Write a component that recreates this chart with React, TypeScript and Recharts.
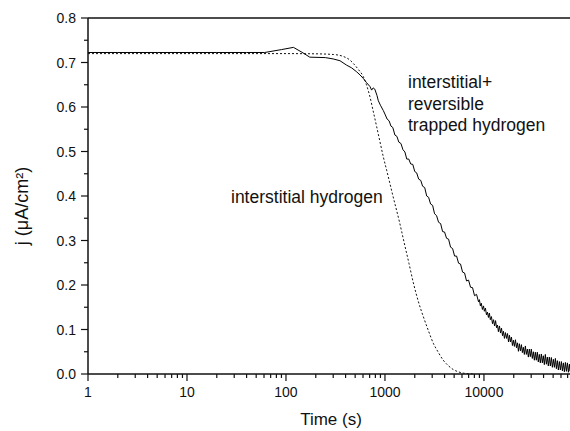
import { LineChart, Line, XAxis, YAxis, ReferenceLine } from 'recharts';

// measured permeation current, j in uA/cm2 against time in s
const solidTime = [
  1, 2, 5, 10, 20, 40, 61, 90, 119, 145, 174, 250, 300, 351, 410, 460, 518, 560, 605, 650,
  705, 733, 760, 790, 830, 857, 900, 962,
  1000, 1050, 1100, 1150, 1200, 1260, 1320, 1380, 1450, 1520,
  1590, 1660, 1740, 1820, 1910, 2000, 2090, 2190, 2300, 2400,
  2520, 2640, 2760, 2890, 3030, 3170, 3320, 3480, 3650, 3820,
  4000, 4190, 4390, 4600, 4820, 5050, 5290, 5540, 5800, 6080,
  6370, 6670, 6990, 7320, 7670, 8030, 8420, 8820,
  9000, 9200, 9400, 9650, 9900, 10100, 10350, 10600, 10850, 11100,
  11350, 11600, 11900, 12200, 12500, 12800, 13100, 13400, 13700, 14000,
  14350, 14700, 15050, 15400, 15750, 16100, 16500, 16900, 17300, 17700,
  18100, 18500, 18950, 19400, 19850, 20300, 20800, 21300, 21800, 22300,
  22800, 23350, 23900, 24450, 25000, 25600, 26200, 26800, 27450, 28100,
  28750, 29400, 30100, 30800, 31550, 32300, 33050, 33800, 34600, 35400,
  36250, 37100, 38000, 38900, 39800, 40750, 41700, 42700, 43700, 44700,
  45750, 46850, 47950, 49100, 50250, 51450, 52650, 53900, 55150, 56450,
  57800, 59150, 60550, 62000, 63450, 64950, 66500, 68050, 69650, 71300,
  73000, 74000,
];
const solidJ = [
  0.7225, 0.7225, 0.7225, 0.7225, 0.7225, 0.7225, 0.7225, 0.729, 0.734, 0.723, 0.712, 0.711,
  0.708, 0.704, 0.694, 0.688, 0.679, 0.672, 0.664, 0.655,
  0.646, 0.638, 0.643, 0.64, 0.626, 0.614, 0.604, 0.592,
  0.584, 0.573, 0.569, 0.557, 0.554, 0.537, 0.534, 0.521, 0.518, 0.504,
  0.499, 0.483, 0.483, 0.472, 0.471, 0.455, 0.452, 0.438, 0.435, 0.422,
  0.419, 0.4, 0.397, 0.382, 0.379, 0.36, 0.356, 0.341, 0.338, 0.32,
  0.319, 0.305, 0.303, 0.285, 0.282, 0.265, 0.265, 0.249, 0.247, 0.229,
  0.227, 0.209, 0.211, 0.195, 0.194, 0.176, 0.179, 0.162,
  0.167, 0.153, 0.159, 0.145, 0.153, 0.141, 0.148, 0.133, 0.139, 0.127,
  0.137, 0.122, 0.129, 0.113, 0.122, 0.108, 0.12, 0.104, 0.11, 0.095,
  0.108, 0.092, 0.103, 0.086, 0.096, 0.08, 0.093, 0.08, 0.091, 0.072,
  0.087, 0.072, 0.083, 0.064, 0.076, 0.062, 0.077, 0.059, 0.07, 0.051,
  0.068, 0.052, 0.066, 0.048, 0.06, 0.044, 0.063, 0.044, 0.056, 0.038,
  0.056, 0.039, 0.056, 0.035, 0.05, 0.031, 0.049, 0.031, 0.049, 0.027,
  0.044, 0.025, 0.045, 0.025, 0.041, 0.021, 0.044, 0.022, 0.038, 0.018,
  0.038, 0.018, 0.037, 0.015, 0.033, 0.015, 0.035, 0.012, 0.03, 0.009,
  0.028, 0.009, 0.028, 0.007, 0.025, 0.005, 0.026, 0.006, 0.025, 0.004,
  0.022, 0.006,
];

// fitted curve for interstitial hydrogen only (dotted)
const dashTime = [
  1, 10, 100, 200, 300, 380, 445, 478, 540, 605, 650, 705, 760, 824, 890, 962, 1040, 1122,
  1210, 1313, 1400, 1475, 1590, 1750, 1930, 2180, 2440, 2750, 3080, 3450, 3880, 4350, 4900,
  5500, 6170, 7000, 8000,
];
const dashJ = [
  0.72, 0.72, 0.72, 0.7195, 0.718, 0.7135, 0.705, 0.698, 0.684, 0.668, 0.65, 0.623, 0.591,
  0.556, 0.522, 0.488, 0.458, 0.428, 0.398, 0.367, 0.342, 0.32, 0.288, 0.248, 0.206, 0.162,
  0.129, 0.097, 0.069, 0.049, 0.031, 0.019, 0.01, 0.005, 0.002, 0.0007, 0,
];

const xTicks = [
  1, 2, 3, 4, 5, 6, 7, 8, 9,
  10, 20, 30, 40, 50, 60, 70, 80, 90,
  100, 200, 300, 400, 500, 600, 700, 800, 900,
  1000, 2000, 3000, 4000, 5000, 6000, 7000, 8000, 9000,
  10000, 20000, 30000, 40000, 50000, 60000, 70000,
];
const xLabels = [1, 10, 100, 1000, 10000];
const yTicks = [
  0, 0.05, 0.1, 0.15, 0.2, 0.25, 0.3, 0.35, 0.4, 0.45, 0.5, 0.55, 0.6, 0.65, 0.7, 0.75, 0.8,
];

const FONT = '"Liberation Sans", Arial, Helvetica, sans-serif';
const INK = '#111';

const solidData = solidTime.map((t, i) => ({ t, j: solidJ[i] }));
const dashData = dashTime.map((t, i) => ({ t, j: dashJ[i] }));

function XTick({ x, y, payload }: any) {
  const major = xLabels.includes(payload.value);
  return (
    <g>
      <line x1={x} x2={x} y1={y} y2={y + (major ? 7 : 4)} stroke={INK} strokeWidth={1.2} />
      {major && (
        <text x={x} y={y + 23} textAnchor="middle" fontSize={14} fontFamily={FONT} fill={INK}>
          {payload.value}
        </text>
      )}
    </g>
  );
}

function YTick({ x, y, payload }: any) {
  const major = Math.round(payload.value * 100) % 10 === 0;
  return (
    <g>
      <line x1={x} x2={x - (major ? 7 : 4)} y1={y} y2={y} stroke={INK} strokeWidth={1.2} />
      {major && (
        <text x={x - 12} y={y + 5} textAnchor="end" fontSize={14} fontFamily={FONT} fill={INK}>
          {payload.value.toFixed(1)}
        </text>
      )}
    </g>
  );
}

export default function App() {
  return (
    <div style={{ position: 'absolute', left: 0, top: 0, background: '#fff' }}>
      <LineChart width={570} height={431} margin={{ top: 18, right: 0, bottom: 0, left: 0 }}>
        <XAxis
          type="number"
          dataKey="t"
          scale="log"
          domain={[1, 74000]}
          allowDataOverflow
          ticks={xTicks}
          interval={0}
          height={57}
          tickSize={0}
          tickMargin={0}
          tickLine={false}
          tick={<XTick />}
          axisLine={{ stroke: INK, strokeWidth: 1.5 }}
        />
        <YAxis
          type="number"
          dataKey="j"
          domain={[0, 0.8]}
          ticks={yTicks}
          interval={0}
          width={88}
          tickSize={0}
          tickMargin={0}
          tickLine={false}
          tick={<YTick />}
          axisLine={{ stroke: INK, strokeWidth: 1.5 }}
        />
        <ReferenceLine y={0.8} stroke={INK} strokeWidth={1.5} />
        <Line
          data={dashData}
          dataKey="j"
          type="monotone"
          stroke={INK}
          strokeWidth={1}
          strokeDasharray="2 2"
          dot={false}
          isAnimationActive={false}
        />
        <Line
          data={solidData}
          dataKey="j"
          type="linear"
          stroke="#000"
          strokeWidth={1}
          dot={false}
          isAnimationActive={false}
        />
        <text
          x={22}
          y={206}
          transform="rotate(-90, 22, 206)"
          textAnchor="middle"
          dominantBaseline="central"
          fontSize={18}
          fontFamily={FONT}
          fill={INK}
        >
          j (μA/cm²)
        </text>
        <text x={331} y={425} textAnchor="middle" fontSize={17} fontFamily={FONT} fill={INK}>
          Time (s)
        </text>
        <text x={408} y={88} fontSize={17.5} fontFamily={FONT} fill={INK}>
          interstitial+
        </text>
        <text x={408} y={110} fontSize={17.5} fontFamily={FONT} fill={INK}>
          reversible
        </text>
        <text x={408} y={131} fontSize={17.5} fontFamily={FONT} fill={INK}>
          trapped hydrogen
        </text>
        <text x={231} y={203} fontSize={17.5} fontFamily={FONT} fill={INK}>
          interstitial hydrogen
        </text>
      </LineChart>
    </div>
  );
}
